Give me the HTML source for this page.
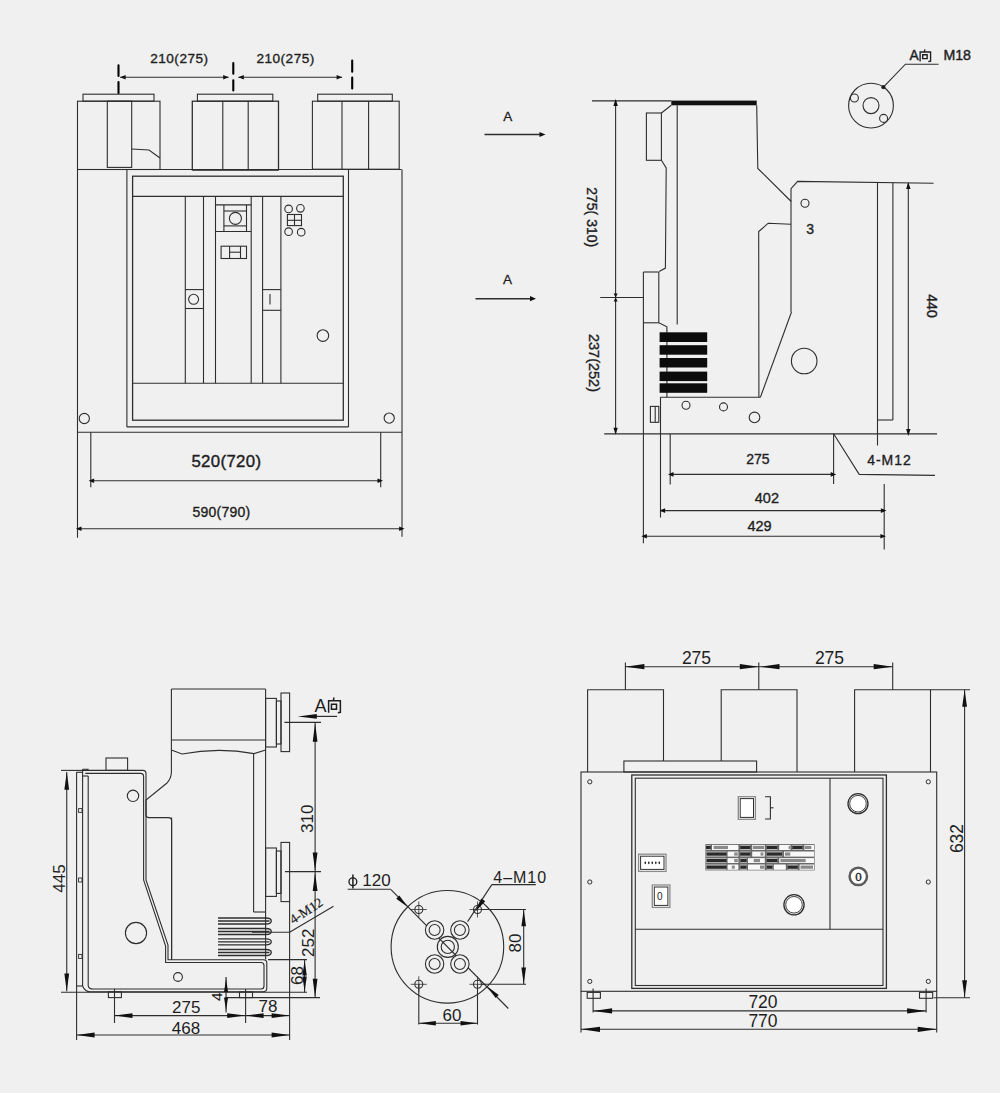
<!DOCTYPE html>
<html><head><meta charset="utf-8"><title>drawing</title>
<style>
html,body{margin:0;padding:0;background:#f0f0f0;width:1000px;height:1093px;overflow:hidden}
svg{display:block}
text{font-family:"Liberation Sans",sans-serif;fill:#1e1e1e;stroke:none}
text.s{stroke:#1e1e1e}
</style></head><body>
<svg width="1000" height="1093" viewBox="0 0 1000 1093">
<rect x="0" y="0" width="1000" height="1093" fill="#f0f0f0"/>
<g fill="none" stroke="#2e2e2e" stroke-width="1.1" stroke-linecap="butt" stroke-linejoin="miter">
<rect x="83" y="94.2" width="71" height="7"/>
<rect x="77.5" y="101.2" width="82.5" height="68.3"/>
<rect x="107.3" y="101.2" width="24.4" height="66.2"/>
<polyline points="131.7,149 149,150 160,158"/>
<rect x="197.4" y="94.2" width="75.4" height="7"/>
<rect x="192.3" y="101.2" width="86.2" height="68.6" stroke-width="1.3"/>
<line x1="192.3" y1="169.8" x2="278.5" y2="169.8" stroke-width="1.6" stroke="#111"/>
<line x1="222.8" y1="101.2" x2="222.8" y2="169.8"/>
<line x1="248.2" y1="101.2" x2="248.2" y2="169.8"/>
<rect x="317.7" y="94.2" width="74.6" height="7"/>
<rect x="312.4" y="101.2" width="86.8" height="68"/>
<line x1="342" y1="101.2" x2="342" y2="169.2"/>
<line x1="368.6" y1="101.2" x2="368.6" y2="169.2"/>
<path d="M118.5,65.4 V76 M118.5,82.1 V93" stroke="#000" stroke-width="2.1" stroke-linecap="round"/>
<path d="M233.3,63.1 V73.7 M233.3,80.3 V90.4" stroke="#000" stroke-width="2.1" stroke-linecap="round"/>
<path d="M352.2,60.6 V71.7 M352.2,77.5 V88.4" stroke="#000" stroke-width="2.1" stroke-linecap="round"/>
<line x1="120.1" y1="77.2" x2="228.7" y2="77.2"/>
<polygon points="120.1,77.2 125.6,74.9 125.6,79.5" fill="#111" stroke="none"/>
<polygon points="228.7,77.2 223.2,79.5 223.2,74.9" fill="#111" stroke="none"/>
<line x1="238.3" y1="77.2" x2="342.1" y2="77.2"/>
<polygon points="238.3,77.2 243.8,74.9 243.8,79.5" fill="#111" stroke="none"/>
<polygon points="342.1,77.2 336.6,79.5 336.6,74.9" fill="#111" stroke="none"/>
<text x="179.4" y="63.1" font-size="13.6" text-anchor="middle" class="s" stroke-width="0.35" letter-spacing="0.5">210(275)</text>
<text x="285.6" y="63.1" font-size="13.6" text-anchor="middle" class="s" stroke-width="0.35" letter-spacing="0.5">210(275)</text>
<line x1="77.5" y1="169.5" x2="401.5" y2="169.5"/>
<line x1="77.5" y1="169.5" x2="77.5" y2="537.7"/>
<line x1="402" y1="169.5" x2="402" y2="536.7"/>
<line x1="77.5" y1="432.2" x2="402" y2="432.2"/>
<line x1="126.9" y1="169.5" x2="126.9" y2="426.9"/>
<line x1="348.5" y1="169.5" x2="348.5" y2="426.9"/>
<line x1="126.9" y1="426.9" x2="348.5" y2="426.9"/>
<rect x="132.6" y="176.2" width="210.7" height="244" stroke-width="1.3"/>
<line x1="132.6" y1="196.4" x2="343.3" y2="196.4"/>
<line x1="132.6" y1="383.3" x2="343.3" y2="383.3"/>
<line x1="185.3" y1="196.4" x2="185.3" y2="383.3"/>
<line x1="203.5" y1="196.4" x2="203.5" y2="383.3"/>
<line x1="215.5" y1="196.4" x2="215.5" y2="383.3"/>
<line x1="251.2" y1="196.4" x2="251.2" y2="383.3"/>
<line x1="262.6" y1="196.4" x2="262.6" y2="383.3"/>
<line x1="280.9" y1="196.4" x2="280.9" y2="383.3"/>
<line x1="185.3" y1="289.6" x2="203.5" y2="289.6"/>
<line x1="185.3" y1="308.5" x2="203.5" y2="308.5"/>
<circle cx="193.6" cy="299.3" r="5"/>
<line x1="262.6" y1="289.6" x2="280.9" y2="289.6"/>
<line x1="262.6" y1="310.3" x2="280.9" y2="310.3"/>
<line x1="270" y1="294" x2="270" y2="304.5"/>
<line x1="215.5" y1="204.9" x2="251.2" y2="204.9"/>
<line x1="215.5" y1="231.5" x2="251.2" y2="231.5"/>
<line x1="223.9" y1="204.9" x2="223.9" y2="231.5"/>
<line x1="246.5" y1="204.9" x2="246.5" y2="231.5"/>
<line x1="223.9" y1="211" x2="246.5" y2="211"/>
<line x1="223.9" y1="225.9" x2="246.5" y2="225.9"/>
<circle cx="235.4" cy="218.4" r="6"/>
<rect x="221.1" y="246.2" width="25.4" height="12.3"/>
<line x1="229.6" y1="246.2" x2="229.6" y2="258.5"/>
<line x1="240.5" y1="246.2" x2="240.5" y2="258.5"/>
<line x1="229.6" y1="252.2" x2="240.5" y2="252.2"/>
<circle cx="288.6" cy="208.9" r="3.8"/>
<circle cx="300.4" cy="208.3" r="3.8"/>
<circle cx="288.6" cy="231.7" r="3.8"/>
<circle cx="301.2" cy="232.2" r="3.8"/>
<rect x="287.4" y="214.5" width="14.1" height="11.1"/>
<line x1="294.5" y1="214.5" x2="294.5" y2="225.6"/>
<line x1="287.4" y1="220.3" x2="301.5" y2="220.3"/>
<circle cx="322.9" cy="335.6" r="5.8"/>
<circle cx="84.3" cy="418.5" r="5.1"/>
<circle cx="389.2" cy="418.1" r="5.1"/>
<line x1="90.8" y1="432.2" x2="90.8" y2="487.3"/>
<line x1="380.7" y1="432.2" x2="380.7" y2="487.3"/>
<line x1="90.8" y1="480.8" x2="380.7" y2="480.8"/>
<polygon points="88.6,480.8 94.1,478.5 94.1,483.1" fill="#111" stroke="none"/>
<polygon points="383,480.8 377.5,483.1 377.5,478.5" fill="#111" stroke="none"/>
<text x="226.4" y="467" font-size="16.8" text-anchor="middle" class="s" stroke-width="0.4" letter-spacing="0.35">520(720)</text>
<line x1="77.5" y1="528.7" x2="402" y2="528.7"/>
<polygon points="76,528.7 81.5,526.4 81.5,531" fill="#111" stroke="none"/>
<polygon points="404.6,528.7 399.1,531 399.1,526.4" fill="#111" stroke="none"/>
<text x="221.4" y="516.8" font-size="14" text-anchor="middle" class="s" stroke-width="0.35" letter-spacing="0.25">590(790)</text>
<text x="507.8" y="121" font-size="13.5" text-anchor="middle" class="s" stroke-width="0.3">A</text>
<line x1="484.5" y1="134.5" x2="541" y2="134.5" stroke-width="1.5"/>
<polygon points="545.5,134.5 539.5,137.1 539.5,131.9" fill="#111" stroke="none"/>
<text x="507.4" y="283.8" font-size="13.5" text-anchor="middle" class="s" stroke-width="0.3">A</text>
<line x1="475.5" y1="298.7" x2="532" y2="298.7" stroke-width="1.5"/>
<polygon points="536,298.7 530,301.3 530,296.1" fill="#111" stroke="none"/>
<line x1="592" y1="100.9" x2="671.3" y2="100.9"/>
<rect x="671.3" y="100.6" width="85.4" height="4.7" fill="#111" stroke="none"/>
<line x1="615.6" y1="100.9" x2="615.6" y2="433.9"/>
<polygon points="615.6,98.9 617.8,105.9 613.4,105.9" fill="#111" stroke="none"/>
<polygon points="615.6,434.8 613.4,427.8 617.8,427.8" fill="#111" stroke="none"/>
<polygon points="615.6,297.5 613.6,293.5 617.6,293.5" fill="#111" stroke="none"/>
<polygon points="615.6,297.5 617.6,301.5 613.6,301.5" fill="#111" stroke="none"/>
<line x1="600.2" y1="297.5" x2="643.4" y2="297.5"/>
<line x1="604.2" y1="433.9" x2="937" y2="433.9"/>
<text x="587.2" y="217.2" font-size="14" text-anchor="middle" class="s" stroke-width="0.35" transform="rotate(90 587.2 217.2)">275( 310)</text>
<text x="588.6" y="363" font-size="14.5" text-anchor="middle" class="s" stroke-width="0.35" transform="rotate(90 588.6 363)">237(252)</text>
<rect x="646.4" y="113" width="15" height="47.3"/>
<line x1="661.4" y1="113" x2="671.3" y2="105.3"/>
<polyline points="661.4,160.3 666.2,168 665.4,268.1 659.2,271.4"/>
<line x1="643.4" y1="272" x2="658.8" y2="272"/>
<line x1="658.8" y1="272" x2="658.8" y2="322.8"/>
<line x1="643.4" y1="272" x2="643.4" y2="543.2"/>
<line x1="643.4" y1="322.8" x2="658.8" y2="322.8"/>
<polyline points="658.8,322.8 666.9,326.8 666.9,397.2"/>
<line x1="677.2" y1="105.3" x2="677.2" y2="324.6"/>
<polyline points="756.7,105.3 757.8,168.4 791.2,201.5"/>
<polyline points="791,312 791,188.7 797.6,181.4 933.6,183.2"/>
<polyline points="758.9,397.2 758.7,231.6 768.2,223.2 791,224.3"/>
<line x1="791.5" y1="312" x2="760.4" y2="397.2"/>
<circle cx="805" cy="203.2" r="4"/>
<text x="810.2" y="233.8" font-size="14" text-anchor="middle" class="s" stroke-width="0.35">3</text>
<circle cx="804.2" cy="361" r="12.8"/>
<line x1="877.5" y1="182.8" x2="877.5" y2="445.6"/>
<line x1="892.9" y1="182.8" x2="892.9" y2="420"/>
<line x1="877.5" y1="420" x2="892.9" y2="420"/>
<line x1="908.3" y1="183.2" x2="908.3" y2="433.8"/>
<polygon points="908.3,182 910.5,189 906.1,189" fill="#111" stroke="none"/>
<polygon points="908.3,436 906.1,429 910.5,429" fill="#111" stroke="none"/>
<text x="927.4" y="306" font-size="14" text-anchor="middle" class="s" stroke-width="0.4" transform="rotate(90 927.4 306)">440</text>
<rect x="659.6" y="332.3" width="47.6" height="9.7" fill="#0c0c0c" stroke="none"/>
<rect x="659.6" y="345.2" width="47.6" height="9.5" fill="#0c0c0c" stroke="none"/>
<rect x="659.6" y="358" width="47.6" height="9.5" fill="#0c0c0c" stroke="none"/>
<rect x="659.6" y="371.6" width="47.6" height="9.5" fill="#0c0c0c" stroke="none"/>
<rect x="659.6" y="383.3" width="47.6" height="9.5" fill="#0c0c0c" stroke="none"/>
<line x1="660.3" y1="397.2" x2="760.4" y2="397.2"/>
<line x1="660.5" y1="397.2" x2="660.5" y2="517.6"/>
<rect x="650.4" y="406.4" width="8.4" height="15.9"/>
<line x1="655.2" y1="406.4" x2="655.2" y2="422.3"/>
<circle cx="686" cy="405.3" r="4"/>
<circle cx="723.5" cy="406.9" r="4"/>
<circle cx="754.5" cy="417.4" r="5.3"/>
<line x1="670.2" y1="434" x2="670.2" y2="484.5"/>
<line x1="833.6" y1="433.8" x2="833.6" y2="484"/>
<line x1="670.2" y1="474.4" x2="833.6" y2="474.4"/>
<polygon points="668,474.4 673.5,472.1 673.5,476.7" fill="#111" stroke="none"/>
<polygon points="836.2,474.4 830.7,476.7 830.7,472.1" fill="#111" stroke="none"/>
<text x="757.9" y="464" font-size="14" text-anchor="middle" class="s" stroke-width="0.35">275</text>
<polyline points="833.6,433.8 859.2,474.4 935,475.4"/>
<text x="889.5" y="464.8" font-size="14" text-anchor="middle" class="s" stroke-width="0.35" letter-spacing="1.0">4-M12</text>
<line x1="884.2" y1="484" x2="884.2" y2="549.6"/>
<line x1="660.8" y1="510.6" x2="884.2" y2="510.6"/>
<polygon points="659.6,510.6 665.1,508.3 665.1,512.9" fill="#111" stroke="none"/>
<polygon points="886.4,510.6 880.9,512.9 880.9,508.3" fill="#111" stroke="none"/>
<text x="766.9" y="503.2" font-size="14.5" text-anchor="middle" class="s" stroke-width="0.35">402</text>
<line x1="642.6" y1="536.2" x2="884.2" y2="536.2"/>
<polygon points="641.4,536.2 646.9,533.9 646.9,538.5" fill="#111" stroke="none"/>
<polygon points="885.9,536.2 880.4,538.5 880.4,533.9" fill="#111" stroke="none"/>
<text x="759.6" y="531.4" font-size="14.5" text-anchor="middle" class="s" stroke-width="0.35">429</text>
<circle cx="871" cy="105.6" r="22.4"/>
<circle cx="871" cy="105.6" r="8"/>
<circle cx="854.4" cy="98" r="4"/>
<circle cx="883.6" cy="118.4" r="4"/>
<polyline points="883.4,87.2 905.4,64.2 938.6,64.2"/>
<circle cx="883.4" cy="87.2" r="1.6" fill="#111"/>
<text x="909.6" y="60.4" font-size="13.8" text-anchor="start" class="s" stroke-width="0.4">A</text>
<path d="M924.91,49.4 L924.32,51.84 M920.13,61.6 L920.13,52.04 L930.57,52.04 L930.57,61.23 L928.33,61.48 M922.67,54.77 L927.15,54.77 L927.15,58.67 L922.67,58.67 Z" stroke-width="1.35" stroke="#1e1e1e"/>
<text x="943.4" y="60" font-size="14.2" text-anchor="start" class="s" stroke-width="0.4">M18</text>
<line x1="171.4" y1="689" x2="265.6" y2="689"/>
<line x1="171.4" y1="689" x2="171.4" y2="772"/>
<line x1="265.6" y1="689" x2="265.6" y2="959.5"/>
<line x1="171.4" y1="740" x2="265.6" y2="740"/>
<path d="M171.4,750 L182,754 Q218,747 254,753.6 L265.6,750"/>
<line x1="253.6" y1="753.6" x2="253.6" y2="912"/>
<line x1="253.6" y1="912" x2="265.6" y2="912"/>
<path d="M171.4,772 Q171.4,778 167,783 L146,800 L146,815 Q146,817.6 149,817.6 L168.5,817.6 Q171.6,817.6 171.6,821 L171.6,959.6"/>
<rect x="265.6" y="698.4" width="10.8" height="48.6"/>
<rect x="276.4" y="701" width="4.6" height="43"/>
<rect x="281" y="693" width="8.6" height="58.6"/>
<rect x="265.6" y="848" width="10.8" height="48.4"/>
<rect x="276.4" y="851" width="4.6" height="42.4"/>
<rect x="281" y="842.4" width="8.6" height="59.2"/>
<text x="314.6" y="711.9" font-size="18" text-anchor="start">A</text>
<path d="M333.99,697.5 L333.32,700.56 M328.6,712.8 L328.6,700.8 L340.37,700.8 L340.37,712.34 L337.84,712.65 M331.46,704.23 L336.51,704.23 L336.51,709.13 L331.46,709.13 Z" stroke-width="1.5" stroke="#1e1e1e"/>
<line x1="310" y1="716.4" x2="337.1" y2="716.4" stroke-width="1.2"/>
<polygon points="297.8,716.4 316.8,714.1 316.8,718.7" fill="#111" stroke="none"/>
<line x1="284.4" y1="722.4" x2="321" y2="722.4"/>
<line x1="315.1" y1="722.4" x2="315.1" y2="997.6"/>
<polygon points="315.1,723.2 317.5,741.7 312.7,741.7" fill="#111" stroke="none"/>
<polygon points="315.1,871 312.7,852.5 317.5,852.5" fill="#111" stroke="none"/>
<polygon points="315.1,872.4 317.5,890.9 312.7,890.9" fill="#111" stroke="none"/>
<polygon points="315.1,997.2 312.7,978.7 317.5,978.7" fill="#111" stroke="none"/>
<line x1="285" y1="871.6" x2="321" y2="871.6"/>
<text x="313.2" y="818.8" font-size="17" text-anchor="middle" transform="rotate(-90 313.2 818.8)">310</text>
<text x="313.6" y="942.8" font-size="17" text-anchor="middle" transform="rotate(-90 313.6 942.8)">252</text>
<line x1="76.6" y1="772.3" x2="76.6" y2="1040"/>
<line x1="76.3" y1="772.3" x2="82.6" y2="772.3"/>
<line x1="82.6" y1="769.3" x2="82.6" y2="986"/>
<line x1="76.6" y1="986" x2="82.6" y2="986"/>
<line x1="88.2" y1="776" x2="88.2" y2="986"/>
<line x1="82.6" y1="776" x2="88.2" y2="776"/>
<polyline points="82.6,769.3 88,769.3 88,770.6"/>
<rect x="78.6" y="808.6" width="3.4" height="3.8" stroke-width="0.9"/>
<rect x="78.6" y="878" width="3.4" height="4" stroke-width="0.9"/>
<rect x="78.6" y="954.4" width="3.4" height="4" stroke-width="0.9"/>
<path d="M82.6,770.4 L143,770.4 Q146,770.4 146,773.5 L146,880 L168,945 L168,959.8 L263.5,959.8 Q266.8,959.8 266.8,963 L266.8,988 Q266.8,991.8 263,991.8 L90,991.8 Q85,991.8 82.6,986"/>
<path d="M85.3,773.4 L140.5,773.4 Q143.6,773.4 143.6,776.5 L143.6,880 L165.6,946 L165.6,962.5 L261,962.5 Q264,962.5 264,965.5 L264,986 Q264,989 261,989 L93,989 Q89,989 88.2,986"/>
<rect x="106" y="758" width="21.6" height="12.4"/>
<circle cx="133" cy="795.8" r="5.7"/>
<line x1="171.6" y1="817.6" x2="171.6" y2="959.6"/>
<circle cx="136" cy="933" r="10.6"/>
<circle cx="178" cy="977" r="4.4"/>
<path d="M218,918 L266,918 C273,918 273,924 266,924 L218,924" stroke-width="1.3"/>
<line x1="218" y1="921" x2="269.5" y2="921" stroke-width="1.3"/>
<path d="M218,928.5 L266,928.5 C273,928.5 273,934.5 266,934.5 L218,934.5" stroke-width="1.3"/>
<line x1="218" y1="931.5" x2="269.5" y2="931.5" stroke-width="1.3"/>
<path d="M218,938.8 L266,938.8 C273,938.8 273,944.8 266,944.8 L218,944.8" stroke-width="1.3"/>
<line x1="218" y1="941.8" x2="269.5" y2="941.8" stroke-width="1.3"/>
<path d="M218,949.5 L266,949.5 C273,949.5 273,955.5 266,955.5 L218,955.5" stroke-width="1.3"/>
<line x1="218" y1="952.5" x2="269.5" y2="952.5" stroke-width="1.3"/>
<line x1="61" y1="770.4" x2="88" y2="770.4"/>
<line x1="61" y1="992.2" x2="307" y2="992.2"/>
<line x1="66.75" y1="772" x2="66.75" y2="991.2"/>
<polygon points="66.75,772.1 69.15,789.8 64.35,789.8" fill="#111" stroke="none"/>
<polygon points="66.75,991.2 64.35,973.5 69.15,973.5" fill="#111" stroke="none"/>
<text x="65" y="878.5" font-size="17" text-anchor="middle" transform="rotate(-90 65 878.5)">445</text>
<rect x="108.4" y="991.8" width="13" height="5.8"/>
<rect x="239.5" y="992" width="13" height="5.6"/>
<line x1="114.5" y1="988.8" x2="114.5" y2="1023"/>
<line x1="245.6" y1="989" x2="245.6" y2="1023"/>
<line x1="226" y1="997.6" x2="320" y2="997.6"/>
<line x1="289.6" y1="901.6" x2="289.6" y2="1040"/>
<line x1="252" y1="932.2" x2="289.6" y2="932.2"/>
<line x1="289.6" y1="932.2" x2="333.5" y2="906.2"/>
<text x="308.6" y="914.6" font-size="13.5" text-anchor="middle" class="s" stroke-width="0.2" transform="rotate(-33 308.6 914.6)" style="font-family:&quot;Liberation Serif&quot;,serif">4-M12</text>
<line x1="268" y1="959.6" x2="307" y2="959.6"/>
<line x1="304.6" y1="959.6" x2="304.6" y2="992.2"/>
<polygon points="304.6,960.4 306.8,975.4 302.4,975.4" fill="#111" stroke="none"/>
<polygon points="304.6,991.6 302.4,976.6 306.8,976.6" fill="#111" stroke="none"/>
<text x="303" y="975.5" font-size="17" text-anchor="middle" transform="rotate(-90 303 975.5)">68</text>
<line x1="226.05" y1="976.9" x2="226.05" y2="1012.6" stroke-width="1.2"/>
<polygon points="226.05,978.5 228.05,992 224.05,992" fill="#111" stroke="none"/>
<polygon points="226.05,1010.5 224.05,997.6 228.05,997.6" fill="#111" stroke="none"/>
<text x="221.6" y="996.7" font-size="15.5" text-anchor="middle" transform="rotate(-90 221.6 996.7)">4</text>
<line x1="114.5" y1="1015.6" x2="289.6" y2="1015.6"/>
<polygon points="114.5,1015.6 132.5,1013.2 132.5,1018" fill="#111" stroke="none"/>
<polygon points="245.2,1015.6 227.2,1018 227.2,1013.2" fill="#111" stroke="none"/>
<polygon points="245.6,1015.6 263.6,1013.2 263.6,1018" fill="#111" stroke="none"/>
<polygon points="289.6,1015.6 271.6,1018 271.6,1013.2" fill="#111" stroke="none"/>
<text x="186.3" y="1013" font-size="17" text-anchor="middle">275</text>
<text x="268" y="1011.6" font-size="17" text-anchor="middle">78</text>
<line x1="76.6" y1="1035" x2="289.6" y2="1035"/>
<polygon points="76.6,1035 94.6,1032.6 94.6,1037.4" fill="#111" stroke="none"/>
<polygon points="289.6,1035 271.6,1037.4 271.6,1032.6" fill="#111" stroke="none"/>
<text x="186" y="1033.8" font-size="17" text-anchor="middle">468</text>
<circle cx="447.4" cy="946.8" r="56.3"/>
<line x1="391" y1="889.7" x2="508.3" y2="1008.5"/>
<line x1="347.7" y1="889.3" x2="391" y2="889.3"/>
<polygon points="407.7,907 396.24,898.66 399.36,895.54" fill="#111" stroke="none"/>
<polygon points="487.3,986.6 498.76,994.94 495.64,998.06" fill="#111" stroke="none"/>
<circle cx="434.6" cy="930" r="9.2" fill="#f0f0f0"/>
<circle cx="434.6" cy="930" r="5.5"/>
<circle cx="459.9" cy="930" r="9.2" fill="#f0f0f0"/>
<circle cx="459.9" cy="930" r="5.5"/>
<circle cx="434.6" cy="964" r="9.2" fill="#f0f0f0"/>
<circle cx="434.6" cy="964" r="5.5"/>
<circle cx="459.9" cy="964" r="9.2" fill="#f0f0f0"/>
<circle cx="459.9" cy="964" r="5.5"/>
<circle cx="447.8" cy="946.9" r="10.5"/>
<circle cx="447.8" cy="946.9" r="6.6"/>
<circle cx="418.8" cy="909.5" r="4"/>
<line x1="410.8" y1="909.5" x2="426.8" y2="909.5" stroke-width="0.8"/>
<line x1="418.8" y1="901.5" x2="418.8" y2="917.5" stroke-width="0.8"/>
<circle cx="477.5" cy="909.5" r="4"/>
<line x1="469.5" y1="909.5" x2="485.5" y2="909.5" stroke-width="0.8"/>
<line x1="477.5" y1="901.5" x2="477.5" y2="917.5" stroke-width="0.8"/>
<circle cx="418.8" cy="984.3" r="4"/>
<line x1="410.8" y1="984.3" x2="426.8" y2="984.3" stroke-width="0.8"/>
<line x1="418.8" y1="976.3" x2="418.8" y2="992.3" stroke-width="0.8"/>
<circle cx="477.5" cy="984.3" r="4"/>
<line x1="469.5" y1="984.3" x2="485.5" y2="984.3" stroke-width="0.8"/>
<line x1="477.5" y1="976.3" x2="477.5" y2="992.3" stroke-width="0.8"/>
<line x1="491.8" y1="884.6" x2="535.8" y2="884.6"/>
<line x1="491.8" y1="884.6" x2="467.6" y2="921.6"/>
<polygon points="475.5,911.5 481.23,898.5 485.23,901.16" fill="#111" stroke="none"/>
<text x="520.2" y="883" font-size="16" text-anchor="middle" letter-spacing="1.0">4–M10</text>
<ellipse cx="352.9" cy="881.8" rx="3.9" ry="3.9" stroke="#1e1e1e" stroke-width="1.35"/>
<line x1="352.9" y1="874.6" x2="352.9" y2="888.6" stroke-width="1.5" stroke="#1e1e1e"/>
<text x="376.5" y="886.4" font-size="17" text-anchor="middle">120</text>
<line x1="480.8" y1="909.5" x2="526" y2="909.5"/>
<line x1="480.8" y1="984.3" x2="526" y2="984.3"/>
<line x1="523.7" y1="909.5" x2="523.7" y2="984.3"/>
<polygon points="523.7,909.8 526,926.3 521.4,926.3" fill="#111" stroke="none"/>
<polygon points="523.7,984 521.4,967.5 526,967.5" fill="#111" stroke="none"/>
<text x="520.5" y="943" font-size="17" text-anchor="middle" transform="rotate(-90 520.5 943)">80</text>
<line x1="418.8" y1="984.3" x2="418.8" y2="1024.6"/>
<line x1="477.5" y1="984.3" x2="477.5" y2="1024.6"/>
<line x1="418.8" y1="1023.3" x2="477.5" y2="1023.3"/>
<polygon points="418.8,1023.3 435.8,1021 435.8,1025.6" fill="#111" stroke="none"/>
<polygon points="477.5,1023.3 460.5,1025.6 460.5,1021" fill="#111" stroke="none"/>
<text x="452" y="1020.6" font-size="17" text-anchor="middle">60</text>
<polyline points="587.6,772 587.6,689.8 663.5,689.8 663.5,761"/>
<polyline points="721.2,761 721.2,689.8 797,689.8 797,772"/>
<polyline points="854.6,772 854.6,689.8 930.5,689.8 930.5,772"/>
<rect x="623.9" y="761" width="132.7" height="11"/>
<line x1="625.4" y1="662.6" x2="625.4" y2="689.8"/>
<line x1="758.8" y1="662.6" x2="758.8" y2="689.8"/>
<line x1="892.7" y1="662.6" x2="892.7" y2="689.8"/>
<line x1="625.4" y1="666.7" x2="892.7" y2="666.7"/>
<polygon points="625.4,666.7 644.4,664.1 644.4,669.3" fill="#111" stroke="none"/>
<polygon points="758.8,666.7 739.8,669.3 739.8,664.1" fill="#111" stroke="none"/>
<polygon points="760.5,666.7 779.5,664.1 779.5,669.3" fill="#111" stroke="none"/>
<polygon points="892.7,666.7 873.7,669.3 873.7,664.1" fill="#111" stroke="none"/>
<text x="696.5" y="664.3" font-size="17.5" text-anchor="middle">275</text>
<text x="829.5" y="664.3" font-size="17.5" text-anchor="middle">275</text>
<line x1="930.5" y1="689.8" x2="970" y2="689.8"/>
<line x1="933.8" y1="997.7" x2="970" y2="997.7"/>
<line x1="964.6" y1="689.8" x2="964.6" y2="997.7"/>
<polygon points="964.6,689.8 967,706.8 962.2,706.8" fill="#111" stroke="none"/>
<polygon points="964.6,997.3 962.2,980.3 967,980.3" fill="#111" stroke="none"/>
<text x="962.5" y="838.5" font-size="17.5" text-anchor="middle" transform="rotate(-90 962.5 838.5)">632</text>
<rect x="581" y="772" width="355.7" height="219.3"/>
<line x1="581" y1="991.3" x2="581" y2="1032.4"/>
<line x1="936.7" y1="991.3" x2="936.7" y2="1032.4"/>
<rect x="631.8" y="775" width="254.6" height="213.4" stroke-width="1.3"/>
<rect x="635.3" y="778.2" width="247.7" height="207.3"/>
<line x1="635.3" y1="929.3" x2="883" y2="929.3"/>
<line x1="830" y1="778.2" x2="830" y2="929.3"/>
<circle cx="589.8" cy="781.8" r="2.1" stroke-width="1"/>
<circle cx="589.8" cy="882" r="2.1" stroke-width="1"/>
<circle cx="589.8" cy="981.4" r="2.1" stroke-width="1"/>
<circle cx="928.3" cy="781.8" r="2.1" stroke-width="1"/>
<circle cx="928.3" cy="882" r="2.1" stroke-width="1"/>
<circle cx="928.3" cy="981.4" r="2.1" stroke-width="1"/>
<rect x="738.3" y="796.7" width="17.1" height="22.6" fill="#ffffff" stroke="#8a8a8a" stroke-width="1.3"/>
<rect x="740.2" y="798.6" width="13.3" height="18.8" stroke-width="1"/>
<polyline points="765,796.8 770.4,796.8 770.4,819 765,819"/>
<line x1="770.4" y1="807.8" x2="773.5" y2="807.8"/>
<rect x="638.6" y="854.2" width="27.4" height="17.2" fill="#ffffff" stroke="#8a8a8a" stroke-width="1.3"/>
<rect x="640.6" y="856.2" width="23.4" height="13.2" stroke-width="1"/>
<ellipse cx="645.3" cy="862.8" rx="0.8" ry="1.4" fill="#222" stroke="none"/>
<ellipse cx="648.8" cy="862.8" rx="0.8" ry="1.4" fill="#222" stroke="none"/>
<ellipse cx="652.3" cy="862.8" rx="0.8" ry="1.4" fill="#222" stroke="none"/>
<ellipse cx="655.8" cy="862.8" rx="0.8" ry="1.4" fill="#222" stroke="none"/>
<ellipse cx="659.3" cy="862.8" rx="0.8" ry="1.4" fill="#222" stroke="none"/>
<rect x="652.3" y="885" width="17.6" height="22.4" fill="#ffffff" stroke="#8a8a8a" stroke-width="1.3"/>
<rect x="654.3" y="887" width="13.6" height="18.4" stroke-width="1"/>
<text x="659.9" y="899.8" font-size="10" text-anchor="middle" fill="#333">0</text>
<circle cx="858" cy="803.7" r="10" stroke-width="1.3"/>
<circle cx="858" cy="803.7" r="8.3" stroke-width="0.9" fill="#ffffff"/>
<circle cx="858.3" cy="876.4" r="8.7" fill="#ffffff" stroke="#5c5c5c" stroke-width="2.5"/>
<text x="858.4" y="880.9" font-size="13" text-anchor="middle" class="s" stroke-width="0.35" style="font-family:&quot;Liberation Serif&quot;,serif">0</text>
<circle cx="794" cy="904.8" r="10.1" stroke-width="1.3"/>
<circle cx="794" cy="904.8" r="8.3" stroke-width="0.9" fill="#ffffff"/>
<rect x="705.4" y="844" width="109.2" height="26.4" fill="#6a6a6a" stroke="none"/>
<rect x="706" y="844.9" width="4.8" height="5.1" fill="#c4c4c4" stroke="none"/>
<rect x="706" y="845.85" width="4.8" height="3.2" fill="#2a2a2a" stroke="none"/>
<rect x="712" y="844.9" width="26.4" height="5.1" fill="#f8f8f8" stroke="none"/>
<rect x="713.61" y="845.85" width="14.35" height="3.2" fill="#8a8a8a" stroke="none"/>
<rect x="740.2" y="844.9" width="10.2" height="5.1" fill="#c4c4c4" stroke="none"/>
<rect x="740.17" y="845.85" width="10.26" height="3.2" fill="#2a2a2a" stroke="none"/>
<rect x="752.2" y="844.9" width="12.6" height="5.1" fill="#f8f8f8" stroke="none"/>
<rect x="752.98" y="845.85" width="11.04" height="3.2" fill="#8a8a8a" stroke="none"/>
<rect x="766.6" y="844.9" width="10.8" height="5.1" fill="#c4c4c4" stroke="none"/>
<rect x="766.6" y="845.85" width="10.8" height="3.2" fill="#2a2a2a" stroke="none"/>
<rect x="779.2" y="844.9" width="11.4" height="5.1" fill="#f8f8f8" stroke="none"/>
<rect x="788.68" y="845.85" width="1.89" height="3.2" fill="#8a8a8a" stroke="none"/>
<rect x="792.4" y="844.9" width="10.2" height="5.1" fill="#c4c4c4" stroke="none"/>
<rect x="792.37" y="845.85" width="10.26" height="3.2" fill="#2a2a2a" stroke="none"/>
<rect x="804.4" y="844.9" width="9.6" height="5.1" fill="#f8f8f8" stroke="none"/>
<rect x="804.88" y="845.85" width="6.48" height="3.2" fill="#8a8a8a" stroke="none"/>
<rect x="706" y="851.5" width="20.4" height="5.1" fill="#c4c4c4" stroke="none"/>
<rect x="706.48" y="852.45" width="20.09" height="3.2" fill="#2a2a2a" stroke="none"/>
<rect x="727.6" y="851.5" width="10.8" height="5.1" fill="#f8f8f8" stroke="none"/>
<rect x="734.2" y="852.45" width="3.6" height="3.2" fill="#8a8a8a" stroke="none"/>
<rect x="740.2" y="851.5" width="10.2" height="5.1" fill="#c4c4c4" stroke="none"/>
<rect x="740.17" y="852.45" width="10.26" height="3.2" fill="#2a2a2a" stroke="none"/>
<rect x="752.2" y="851.5" width="12.6" height="5.1" fill="#f8f8f8" stroke="none"/>
<rect x="760.57" y="852.45" width="2.76" height="3.2" fill="#8a8a8a" stroke="none"/>
<rect x="766.6" y="851.5" width="15.6" height="5.1" fill="#c4c4c4" stroke="none"/>
<rect x="766.84" y="852.45" width="15.12" height="3.2" fill="#2a2a2a" stroke="none"/>
<rect x="784" y="851.5" width="30" height="5.1" fill="#f8f8f8" stroke="none"/>
<rect x="784.96" y="852.45" width="5.3" height="3.2" fill="#8a8a8a" stroke="none"/>
<rect x="706" y="858.1" width="20.4" height="4.9" fill="#c4c4c4" stroke="none"/>
<rect x="706.48" y="858.95" width="20.09" height="3.2" fill="#2a2a2a" stroke="none"/>
<rect x="727.6" y="858.1" width="10.8" height="4.9" fill="#f8f8f8" stroke="none"/>
<rect x="734.2" y="858.95" width="3.6" height="3.2" fill="#8a8a8a" stroke="none"/>
<rect x="740.2" y="858.1" width="6.6" height="4.9" fill="#c4c4c4" stroke="none"/>
<rect x="740.38" y="858.95" width="6.24" height="3.2" fill="#2a2a2a" stroke="none"/>
<rect x="748" y="858.1" width="16.8" height="4.9" fill="#f8f8f8" stroke="none"/>
<rect x="753.7" y="858.95" width="6.3" height="3.2" fill="#8a8a8a" stroke="none"/>
<rect x="766.6" y="858.1" width="10.8" height="4.9" fill="#c4c4c4" stroke="none"/>
<rect x="766.6" y="858.95" width="10.8" height="3.2" fill="#2a2a2a" stroke="none"/>
<rect x="779.2" y="858.1" width="34.8" height="4.9" fill="#f8f8f8" stroke="none"/>
<rect x="780.4" y="858.95" width="25.2" height="3.2" fill="#8a8a8a" stroke="none"/>
<rect x="706" y="864.5" width="20.4" height="5.3" fill="#c4c4c4" stroke="none"/>
<rect x="706.48" y="865.55" width="20.09" height="3.2" fill="#2a2a2a" stroke="none"/>
<rect x="727.6" y="864.5" width="10.8" height="5.3" fill="#f8f8f8" stroke="none"/>
<rect x="731.8" y="865.55" width="3" height="3.2" fill="#8a8a8a" stroke="none"/>
<rect x="740.2" y="864.5" width="6.6" height="5.3" fill="#c4c4c4" stroke="none"/>
<rect x="740.38" y="865.55" width="6.24" height="3.2" fill="#2a2a2a" stroke="none"/>
<rect x="748" y="864.5" width="16.8" height="5.3" fill="#f8f8f8" stroke="none"/>
<rect x="760" y="865.55" width="4.5" height="3.2" fill="#8a8a8a" stroke="none"/>
<rect x="766.6" y="864.5" width="6" height="5.3" fill="#c4c4c4" stroke="none"/>
<rect x="766.72" y="865.55" width="5.76" height="3.2" fill="#2a2a2a" stroke="none"/>
<rect x="773.8" y="864.5" width="12" height="5.3" fill="#f8f8f8" stroke="none"/>
<rect x="787.6" y="864.5" width="10.2" height="5.3" fill="#c4c4c4" stroke="none"/>
<rect x="787.57" y="865.55" width="10.26" height="3.2" fill="#2a2a2a" stroke="none"/>
<rect x="799.6" y="864.5" width="14.4" height="5.3" fill="#f8f8f8" stroke="none"/>
<rect x="800.56" y="865.55" width="12.48" height="3.2" fill="#8a8a8a" stroke="none"/>
<rect x="587.2" y="992.4" width="13.2" height="5.9"/>
<rect x="919.5" y="992.4" width="13.2" height="5.9"/>
<line x1="593.1" y1="988.4" x2="593.1" y2="1012.6"/>
<line x1="926.1" y1="988.4" x2="926.1" y2="1012.6"/>
<line x1="593.1" y1="1010.9" x2="926.1" y2="1010.9"/>
<polygon points="593.1,1010.9 612.1,1008.3 612.1,1013.5" fill="#111" stroke="none"/>
<polygon points="926.1,1010.9 907.1,1013.5 907.1,1008.3" fill="#111" stroke="none"/>
<text x="763" y="1007.8" font-size="17.5" text-anchor="middle">720</text>
<line x1="581" y1="1029.3" x2="936.7" y2="1029.3"/>
<polygon points="581,1029.3 600,1026.7 600,1031.9" fill="#111" stroke="none"/>
<polygon points="936.7,1029.3 917.7,1031.9 917.7,1026.7" fill="#111" stroke="none"/>
<text x="763" y="1026.5" font-size="17.5" text-anchor="middle">770</text>
</g>
</svg>
</body></html>
